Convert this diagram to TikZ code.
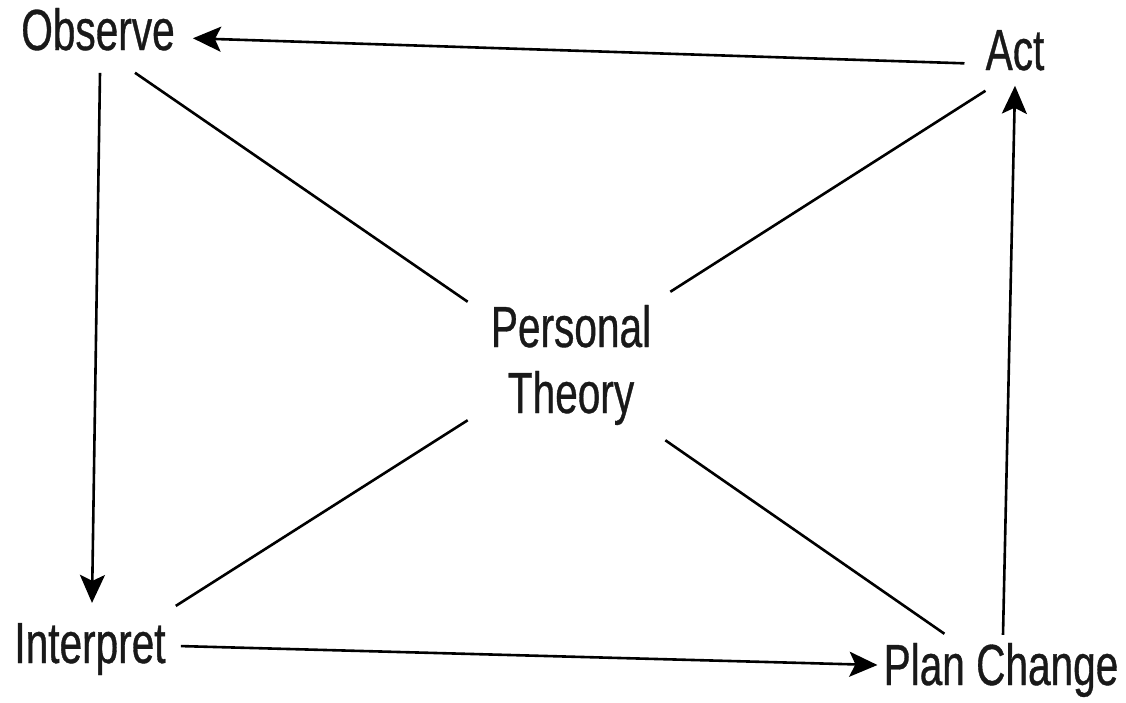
\documentclass[tikz,border=0pt]{standalone}
\usepackage{fontspec}
\newfontfamily\diagfont[FakeStretch=0.7, FakeBold=0.6]{Liberation Sans}
\usetikzlibrary{arrows.meta}

\begin{document}
\begin{tikzpicture}[
    x=1pt, y=-1pt,
    lbl/.style={inner sep=0pt, anchor=base, font=\diagfont\fontsize{58}{66}\selectfont, text=black!90},
    arr/.style={-{Stealth[length=28pt, width=25pt, inset=6pt]}, line width=2.6pt},
    spoke/.style={line width=2.6pt}
]
    \useasboundingbox (0,0) rectangle (1126,702);
    \node[lbl] (obs) at (98, 50) {Observe};
    \node[lbl] (act) at (1015, 70) {Act};
    \node[lbl, align=center] (pt) at (571, 413) {Personal\\Theory};
    \node[lbl] (int) at (90, 663) {Interpret};
    \node[lbl] (pc) at (1001, 685) {Plan Change};
    % the cycle
    \draw[arr] ([shift={(-21pt,-13pt)}]act.west) -- ([shift={(18pt,-9pt)}]obs.east);
    \draw[arr] ([shift={(2pt,-22pt)}]obs.south) -- ([shift={(2pt,20pt)}]int.north);
    \draw[arr] ([shift={(15pt,3pt)}]int.east) -- ([shift={(-6pt,5pt)}]pc.west);
    \draw[arr] ([shift={(2pt,8pt)}]pc.north) -- ([shift={(0pt,-15pt)}]act.south);
    % spokes to the centre
    \draw[spoke] ([shift={(37pt,-22pt)}]obs.south) -- ([shift={(-23pt,3pt)}]pt.north west);
    \draw[spoke] ([shift={(0pt,-20pt)}]act.south west) -- ([shift={(19pt,13pt)}]pt.north east);
    \draw[spoke] ([shift={(10pt,17pt)}]int.north east) -- ([shift={(-23pt,5pt)}]pt.south west);
    \draw[spoke] ([shift={(61pt,9pt)}]pc.north west) -- ([shift={(14pt,-15pt)}]pt.south east);
\end{tikzpicture}
\end{document}
